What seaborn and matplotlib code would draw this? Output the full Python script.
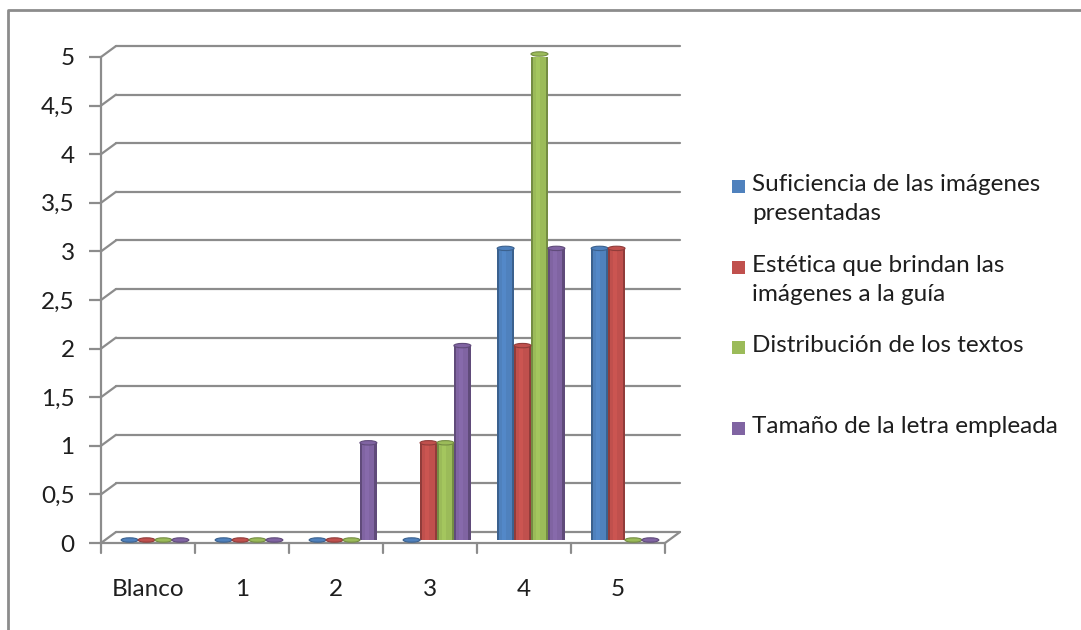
import numpy as np
import pandas as pd
import matplotlib
matplotlib.use("Agg")
import matplotlib.pyplot as plt
import matplotlib.transforms as mtransforms
from matplotlib.patches import Ellipse, Rectangle
from matplotlib.lines import Line2D
import seaborn as sns

# data
categories = ["Blanco", "1", "2", "3", "4", "5"]
series = ["Suficiencia de las imágenes\npresentadas",
          "Estética que brindan las\nimágenes a la guía",
          "Distribución de los textos",
          "Tamaño de la letra empleada"]
suficiencia = [0, 0, 0, 0, 3, 3]
estetica = [0, 0, 0, 1, 2, 3]
distribucion = [0, 0, 0, 1, 5, 0]
tamano = [0, 0, 1, 2, 3, 0]
colors = ["#4F81BD", "#C0504D", "#9BBB59", "#8064A2"]

df = pd.DataFrame({
    "categoria": categories * 4,
    "serie": np.repeat(series, len(categories)),
    "valor": suficiencia + estetica + distribucion + tamano,
})

sns.set_style("white")
plt.rcParams["font.family"] = ["Lato", "DejaVu Sans"]

W, H = 1081, 630
fig = plt.figure(figsize=(W / 100, H / 100), dpi=100)
ax = fig.add_axes([101 / W, 87 / H, 564 / W, 486 / H])

sns.barplot(data=df, x="categoria", y="valor", hue="serie",
            palette=colors, width=0.72, ax=ax, legend=False,
            edgecolor="none", saturation=1)

ax.set_xlim(-0.5, 5.5)
ax.set_ylim(0, 5)
for s in ax.spines.values():
    s.set_visible(False)
ax.set_xlabel("")
ax.set_ylabel("")

# depth offset of the pseudo-3D back wall (pixels)
dxp, dyp = 15, 11
back = ax.transData + mtransforms.ScaledTranslation(dxp / 100, dyp / 100, fig.dpi_scale_trans)
mid = ax.transData + mtransforms.ScaledTranslation(7 / 100, 3 / 100, fig.dpi_scale_trans)
grid_c = "#8c8c8c"
txt_c = "#1e1e1e"

yticks = np.arange(0, 5.01, 0.5)
for y in yticks:
    # back-wall gridline
    ax.add_line(Line2D([-0.5, 5.5], [y, y], transform=back, color=grid_c,
                       lw=1.6, clip_on=False, zorder=0))
    # diagonal from axis to back wall
    p0 = ax.transData.transform((-0.5, y))
    p1 = back.transform((-0.5, y))
    ax.add_line(Line2D([p0[0], p1[0]], [p0[1], p1[1]], transform=None,
                       color=grid_c, lw=1.6, clip_on=False, zorder=0))

# front floor edge and right diagonal
ax.add_line(Line2D([-0.5, 5.5], [0, 0], color=grid_c, lw=1.6, clip_on=False, zorder=0))
p0 = ax.transData.transform((5.5, 0))
p1 = back.transform((5.5, 0))
ax.add_line(Line2D([p0[0], p1[0]], [p0[1], p1[1]], transform=None,
                   color=grid_c, lw=1.6, clip_on=False, zorder=0))
# vertical axis line
ax.add_line(Line2D([-0.5, -0.5], [0, 5], color=grid_c, lw=1.6, clip_on=False, zorder=0))

ax.set_yticks(yticks)
ax.set_yticklabels([f"{v:g}".replace(".", ",") for v in yticks])
ax.set_xticks(range(len(categories)))
ax.set_xticklabels(categories)
ax.tick_params(axis="y", length=9, width=1.6, color=grid_c, labelsize=17.5,
               pad=10, left=True, labelcolor=txt_c)
ax.tick_params(axis="x", length=0, labelsize=17.5, pad=26, labelcolor=txt_c)
# category boundary ticks
for xb in np.arange(-0.5, 5.51, 1):
    b = ax.transData.transform((xb, 0))
    ax.add_line(Line2D([b[0], b[0]], [b[1], b[1] - 10], transform=None,
                       color=grid_c, lw=1.6, clip_on=False))

# cylinder look: shift bars to mid depth, add shading and caps
bars = list(ax.patches)
for bar in bars:
    col = bar.get_facecolor()
    bar.set_transform(mid)
    bar.set_zorder(2)
    bx, bw, bh = bar.get_x(), bar.get_width(), bar.get_height()
    dark = tuple(np.array(col[:3]) * 0.75)
    light = tuple(np.minimum(np.array(col[:3]) * 1.12, 1))
    if bh > 0:
        ax.add_patch(Rectangle((bx, 0), bw * 0.12, bh, transform=mid,
                               facecolor=dark, edgecolor="none", zorder=2.1))
        ax.add_patch(Rectangle((bx + bw * 0.86, 0), bw * 0.14, bh, transform=mid,
                               facecolor=dark, edgecolor="none", zorder=2.1))
        ax.add_patch(Rectangle((bx + bw * 0.3, 0), bw * 0.25, bh, transform=mid,
                               facecolor=light, edgecolor="none", alpha=0.5, zorder=2.1))
    cap = Ellipse((bx + bw / 2, bh), bw, 0.045, transform=mid,
                  facecolor=col, edgecolor=dark,
                  lw=0.8, zorder=2.2, clip_on=False)
    ax.add_patch(cap)

# legend drawn to match the spacing of the original (first-line centre, px from top)
leg_rows = [187, 268, 348, 429]
for ty, lab, c in zip(leg_rows, series, colors):
    fig.patches.append(Rectangle((732 / W, 1 - (ty + 6) / H), 13 / W, 13 / H,
                                 transform=fig.transFigure, facecolor=c,
                                 edgecolor="none"))
    fig.text(752 / W, 1 - (ty - 13) / H, lab, fontsize=17.5, color=txt_c,
             va="top", ha="left", linespacing=1.45)

# outer chart frame
fig.add_artist(Line2D([8 / W, 8 / W, 1], [0, 1 - 10 / H, 1 - 10 / H],
                      transform=fig.transFigure, color="#8c8c8c", lw=2))

fig.savefig("out.png", dpi=100)
